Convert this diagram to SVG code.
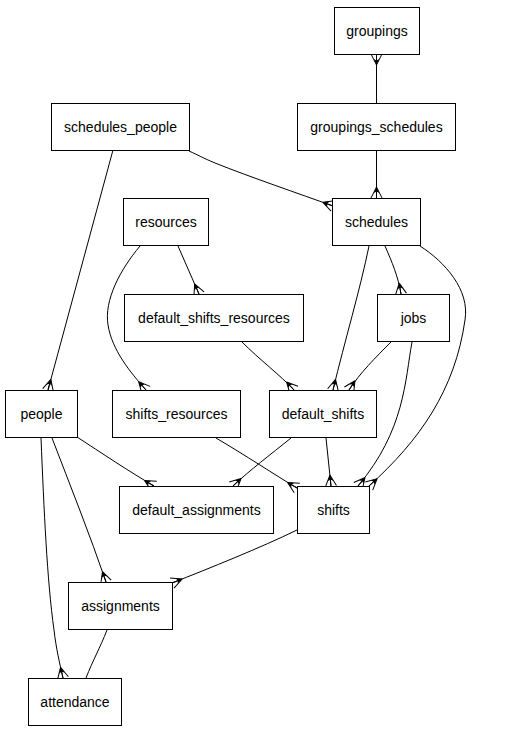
<svg xmlns="http://www.w3.org/2000/svg" width="505" height="731" viewBox="0 0 505 731">
<style>
.n rect{fill:#fff;stroke:#000;stroke-width:1}
.n text{font-family:"Liberation Sans",Arial,sans-serif;font-size:14px;fill:#000;text-anchor:middle;dominant-baseline:central}
.e path{fill:none;stroke:#000;stroke-width:1}
.e path.c{marker-end:url(#crow)}
</style>
<defs>
<marker id="crow" markerUnits="userSpaceOnUse" viewBox="-13 -7 14 14" markerWidth="14" markerHeight="14" refX="0" refY="0" orient="auto" overflow="visible">
<path d="M-11,0 L0,-5.5 M-11,0 L0,0 M-11,0 L0,5.5" fill="none" stroke="#000" stroke-width="1"/>
<polygon points="-11,0 -5,-2.8 -6.5,0 -5,2.8" fill="#000"/>
</marker>
</defs>
<rect width="505" height="731" fill="#fff"/>
<g id="connectors" class="e">
<path class="c" d="M376.5,103 L376.5,54"/>
<path class="c" d="M376.5,150 L376.5,198"/>
<path class="c" d="M189,151 C198,155 203,158 215,163 C250,177 300,194 333,206"/>
<path class="c" d="M113,150 L48,390"/>
<path class="c" d="M178,246 L199,294"/>
<path class="c" d="M140,246 C120,270 104,300 108,325 C112,350 130,372 146,390"/>
<path class="c" d="M369,246 C360,290 345,340 333,390"/>
<path class="c" d="M385,246 C392,262 398,276 401,294"/>
<path class="c" d="M420,246 C445,262 470,290 465,320 C455,390 420,440 369,486"/>
<path class="c" d="M242,342 C260,360 280,375 294,390"/>
<path class="c" d="M391,342 C375,358 360,373 349,390"/>
<path class="c" d="M412,342 C405,380 405,430 358,486"/>
<path class="c" d="M326,438 L331,486"/>
<path class="c" d="M291,438 C270,455 250,470 233,486"/>
<path class="c" d="M216,438 C245,455 275,475 297,488"/>
<path class="c" d="M77,437 C100,452 130,472 154,486"/>
<path class="c" d="M52,438 C70,485 90,535 106,582"/>
<path class="c" d="M41,438 C44,510 47,580 54,630 C56,648 60,665 63,678"/>
<path class="c" d="M297,530 C260,548 210,568 172,583"/>
<path d="M107,630 C100,648 93,660 86,678"/>
</g>
<g id="groupings" class="n"><rect x="334.5" y="7.5" width="85" height="47"/><text x="377" y="31">groupings</text></g>
<g id="groupings_schedules" class="n"><rect x="297.5" y="103.5" width="158" height="47"/><text x="376.5" y="127">groupings_schedules</text></g>
<g id="schedules_people" class="n"><rect x="51.5" y="103.5" width="138" height="47"/><text x="120.5" y="127">schedules_people</text></g>
<g id="resources" class="n"><rect x="123.5" y="198.5" width="85" height="47"/><text x="166" y="222">resources</text></g>
<g id="schedules" class="n"><rect x="332.5" y="198.5" width="88" height="47"/><text x="376.5" y="222">schedules</text></g>
<g id="default_shifts_resources" class="n"><rect x="124.5" y="294.5" width="179" height="47"/><text x="214" y="318">default_shifts_resources</text></g>
<g id="jobs" class="n"><rect x="377.5" y="294.5" width="72" height="47"/><text x="413.5" y="318">jobs</text></g>
<g id="people" class="n"><rect x="5.5" y="390.5" width="72" height="47"/><text x="41.5" y="414">people</text></g>
<g id="shifts_resources" class="n"><rect x="112.5" y="390.5" width="128" height="47"/><text x="176.5" y="414">shifts_resources</text></g>
<g id="default_shifts" class="n"><rect x="269.5" y="390.5" width="107" height="47"/><text x="323" y="414">default_shifts</text></g>
<g id="default_assignments" class="n"><rect x="119.5" y="486.5" width="154" height="47"/><text x="196.5" y="510">default_assignments</text></g>
<g id="shifts" class="n"><rect x="297.5" y="486.5" width="72" height="47"/><text x="333.5" y="510">shifts</text></g>
<g id="assignments" class="n"><rect x="68.5" y="582.5" width="104" height="47"/><text x="120.5" y="606">assignments</text></g>
<g id="attendance" class="n"><rect x="28.5" y="678.5" width="93" height="47"/><text x="75" y="702">attendance</text></g>
</svg>
